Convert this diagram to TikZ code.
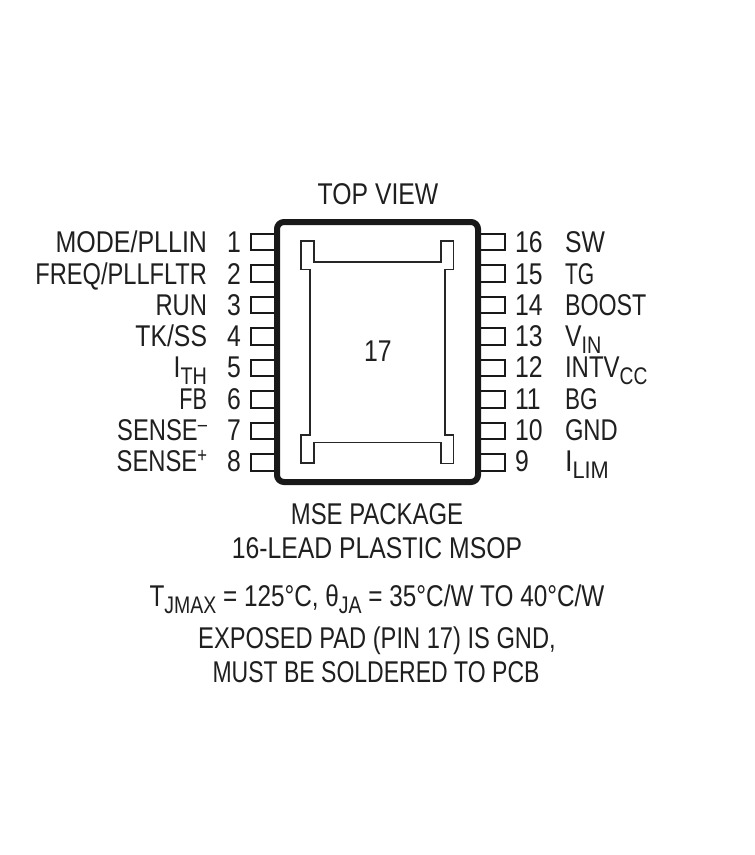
\documentclass[tikz,border=0pt]{standalone}
\usepackage{graphicx}
\usepackage{fontspec}
\setmainfont[FakeStretch=0.825]{Liberation Sans}
\newcommand{\sbt}[1]{\raisebox{-7pt}[0pt][0pt]{\fontsize{24}{24}\selectfont #1}}
\newcommand{\spt}[1]{\raisebox{9pt}[0pt][0pt]{\fontsize{21}{21}\selectfont #1}}
\newcommand{\xs}[2]{\scalebox{#1}[1]{#2}}
\tikzset{
 x=1pt,y=-1pt,
 pin/.style={draw=black!90,line width=2pt,fill=white},
 txt/.style={inner sep=0pt,outer sep=0pt,text=black!88,font=\fontsize{30}{30}\selectfont},
 lbl/.style={txt,anchor=base east},
 rbl/.style={txt,anchor=base west},
 ctr/.style={txt,anchor=base},
}
\begin{document}
\begin{tikzpicture}
\useasboundingbox (0,0) rectangle (755,855);
\fill[white] (0,0) rectangle (755,855);
% pins
\foreach \i in {0,...,7}{
  \pgfmathsetmacro{\yt}{233.5+31.55*\i}
  \draw[pin] (276,\yt) -- (250.5,\yt) -- (250.5,\yt+16.5) -- (276,\yt+16.5);
  \draw[pin] (479,\yt) -- (504.5,\yt) -- (504.5,\yt+16.5) -- (479,\yt+16.5);
}
% body
\draw[black!90,line width=6pt,rounded corners=7pt,fill=white] (277,222) rectangle (478,482);
% pad
\draw[black!85,line width=1.7pt] (301,241) -- (314,241) -- (314,262) -- (441,262) -- (441,241) -- (453.5,241) -- (453.5,269.5) -- (445,269.5) -- (445,435) -- (453.5,435) -- (453.5,463.5) -- (441,463.5) -- (441,442.5) -- (314,442.5) -- (314,463) -- (301,463) -- (301,435) -- (310,435) -- (310,269.5) -- (301,269.5) -- cycle;
% texts
\node[ctr] (top) at (378,204) {TOP VIEW};
\node[ctr] (pad) at (378,361) {17};
\node[lbl] (l1) at (207,252) {\xs{1.01}{MODE/PLLIN}};
\node[lbl] (l2) at (207,284) {\xs{.955}{FREQ/PLLFLTR}};
\node[lbl] (l3) at (207,315) {\xs{.96}{RUN}};
\node[lbl] (l4) at (207,346) {TK/SS};
\node[lbl] (l5) at (207,377) {I\sbt{TH}};
\node[lbl] (l6) at (207,409) {\xs{.87}{FB}};
\node[lbl] (l7) at (207,440) {\xs{.96}{SENSE\spt{--}}};
\node[lbl] (l8) at (207,471) {\xs{.96}{SENSE\spt{+}}};
\foreach \n/\t/\y in {1/1/252,2/2/284,3/3/315,4/4/346,5/5/377,6/6/409,7/7/440,8/8/471}
  \node[lbl] (n\n) at (241,\y) {\t};
\foreach \n/\t/\y in {16/16/252,15/15/284,14/14/315,13/13/346,12/12/377,11/11/409,10/10/440,9/9/471}
  \node[rbl] (n\n) at (515,\y) {\t};
\node[rbl] (r16) at (565,252) {SW};
\node[rbl] (r15) at (565,284) {\xs{.85}{TG}};
\node[rbl] (r14) at (565,315) {\xs{.94}{BOOST}};
\node[rbl] (r13) at (565,346) {V\sbt{IN}};
\node[rbl] (r12) at (565,377) {\xs{.97}{INTV\sbt{CC}}};
\node[rbl] (r11) at (565,409) {\xs{.91}{BG}};
\node[rbl] (r10) at (565,440) {\xs{.96}{GND}};
\node[rbl] (r9) at (565,471) {\xs{1.1}{I\sbt{LIM}}};
\node[ctr] (c1) at (377,524) {\xs{.966}{MSE PACKAGE}};
\node[ctr] (c2) at (377,558) {16-LEAD PLASTIC MSOP};
\node[ctr] (c3) at (377,606) {\xs{.983}{T\sbt{JMAX} = 125°C, θ\sbt{JA} = 35°C/W TO 40°C/W}};
\node[ctr] (c4) at (377,648) {\xs{.957}{EXPOSED PAD (PIN 17) IS GND,}};
\node[ctr] (c5) at (376,682) {\xs{.93}{MUST BE SOLDERED TO PCB}};
\end{tikzpicture}
\end{document}
